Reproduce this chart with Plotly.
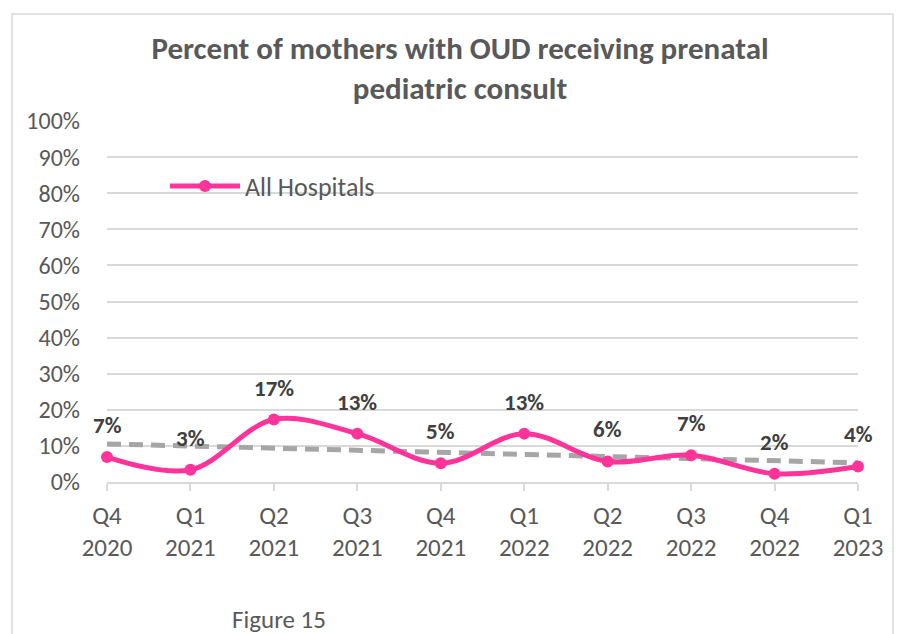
import numpy as np
import plotly.graph_objects as go

categories = ["Q4 2020", "Q1 2021", "Q2 2021", "Q3 2021", "Q4 2021",
              "Q1 2022", "Q2 2022", "Q3 2022", "Q4 2022", "Q1 2023"]
quarters = ["Q4", "Q1", "Q2", "Q3", "Q4", "Q1", "Q2", "Q3", "Q4", "Q1"]
years = ["2020", "2021", "2021", "2021", "2021", "2022", "2022", "2022", "2022", "2023"]
all_hospitals = [6.9, 3.4, 17.3, 13.4, 5.2, 13.4, 5.7, 7.4, 2.3, 4.3]
y_ticks = list(range(0, 101, 10))

FONT = "Carlito, Lato, 'Liberation Sans', sans-serif"
PINK = "#FF3399"
GRAY_T = "#595959"

idx = np.arange(len(categories))
slope, intercept = np.polyfit(idx, all_hospitals, 1)
trend = (intercept + slope * idx).tolist()

fig = go.Figure()
fig.add_trace(go.Scatter(
    x=categories, y=trend, mode="lines", showlegend=False, hoverinfo="skip",
    line=dict(color="#A6A6A6", width=5, dash="14px,8px"), cliponaxis=False))
fig.add_trace(go.Scatter(
    x=categories, y=all_hospitals, mode="lines+markers", name="All Hospitals",
    line=dict(color=PINK, width=5, shape="spline", smoothing=1),
    marker=dict(color=PINK, size=12), cliponaxis=False))

for c, v in zip(categories, all_hospitals):
    fig.add_annotation(x=c, y=v, text=f"<b>{v:.0f}%</b>", showarrow=False,
                       yshift=32, yanchor="middle",
                       font=dict(family=FONT, size=23, color="#404040"))

# page is offset by 8px in the browser window
OFF = 8
W, H = 905 - OFF, 634 - OFF
L, R, T, B = 107 - OFF, 47, 121 - OFF, 152
pw, ph = W - L - R, H - T - B


def px(sx):
    return (sx - OFF - L) / pw


def py(sy):
    return (H - B - (sy - OFF)) / ph


fig.add_shape(type="rect", xref="paper", yref="paper",
              x0=px(12), x1=px(893), y0=py(720), y1=py(14),
              line=dict(color="#D9D9D9", width=1.5), layer="below")

fig.add_annotation(xref="paper", yref="paper", x=px(279), y=py(619),
                   text="Figure 15", showarrow=False, xanchor="center", yanchor="middle",
                   font=dict(family=FONT, size=25, color=GRAY_T))

fig.update_layout(
    width=W, height=H,
    margin=dict(l=L, r=R, t=T, b=B),
    paper_bgcolor="white", plot_bgcolor="white",
    font=dict(family=FONT, color=GRAY_T),
    title=dict(text="<b>Percent of mothers with OUD receiving prenatal<br>pediatric consult</b>",
               x=(460 - OFF) / W, xanchor="center", y=1 - (59 - OFF) / H, yanchor="middle",
               font=dict(family=FONT, size=31, color=GRAY_T)),
    legend=dict(x=px(165), y=py(186), xanchor="left", yanchor="middle",
                bgcolor="rgba(0,0,0,0)", itemwidth=70,
                font=dict(family=FONT, size=26, color=GRAY_T)),
    showlegend=True,
)
fig.update_xaxes(
    type="category", range=[0, len(categories) - 1],
    tickvals=categories,
    ticktext=[f"{q}<br>{y}" for q, y in zip(quarters, years)],
    showgrid=False, showline=True, linecolor="#D9D9D9", linewidth=1.5,
    ticks="outside", ticklen=7, tickcolor="#D9D9D9", tickwidth=1.5,
    ticklabelstandoff=3,
    tickfont=dict(family=FONT, size=25, color=GRAY_T), zeroline=False)
fig.update_yaxes(
    range=[0, 100], tickvals=y_ticks, ticktext=[f"{t}%" for t in y_ticks],
    showgrid=True, gridcolor="#D9D9D9", gridwidth=1.5, zeroline=False,
    showline=False, ticks="", ticklabelstandoff=26,
    tickfont=dict(family=FONT, size=24, color=GRAY_T))

fig.write_html("out.html")
